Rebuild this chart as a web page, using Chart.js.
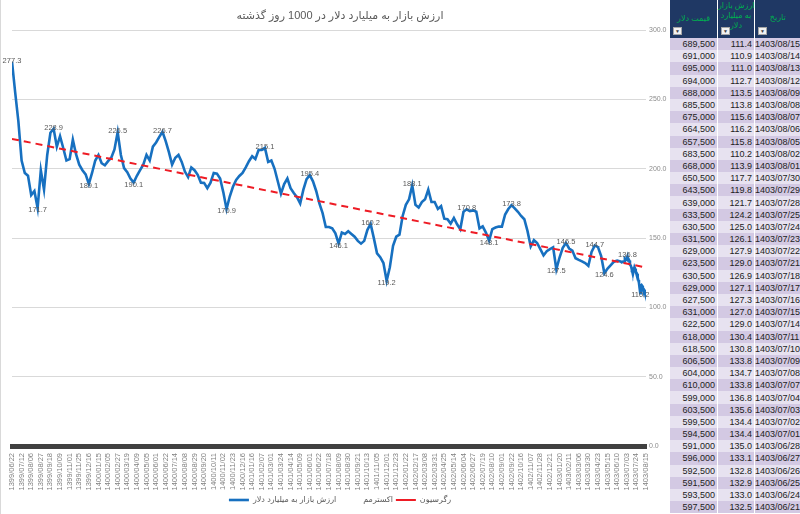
<!DOCTYPE html>
<html lang="fa">
<head>
<meta charset="utf-8">
<script src="https://cdn.jsdelivr.net/npm/chart.js@4.4.1/dist/chart.umd.min.js"></script>
<style>
  html, body { margin: 0; padding: 0; background: #fff; }
  body { width: 800px; height: 514px; position: relative; overflow: hidden; font-family: 'Liberation Sans', 'DejaVu Sans', Arial, sans-serif; }
  #chartBox { position: absolute; left: 0; top: 0; width: 668px; height: 514px; border-left: 1px solid #d9d9d9; box-sizing: border-box; }
  #tableBox { position: absolute; left: 669px; top: 0; width: 131px; height: 514px; overflow: hidden; }
  table { border-collapse: collapse; table-layout: fixed; width: 131px; font-size: 9px; color: #222; }
  th { background: #1f3864; color: #00b050; font-weight: normal; height: 38px; padding: 0; position: relative; font-size: 8px; border-left: 1px solid #fff; vertical-align: top; }
  th .txt { position: absolute; left: 0; right: 0; text-align: center; white-space: nowrap; }
  th .drop { position: absolute; left: 3px; bottom: 3px; width: 7px; height: 6px; background: #f2f2f2; border: 1px solid #a6a6a6; font-size: 5px; line-height: 6px; color: #404040; text-align: center; }
  td { height: 12.2px; padding: 0 2px 0 0; text-align: right; border-left: 1px solid #fff; white-space: nowrap; line-height: 12px; }
  tr.odd td { background: #d3c9e3; }
  tr.even td { background: #e7e2f0; }
</style>
</head>
<body>
<div id="chartBox"><canvas id="chart" dir="rtl"></canvas></div>
<div id="tableBox"></div>
<script>
// ارزش بازار به میلیارد دلار، هر ۵ روز معاملاتی یک نمونه، از 1399/06/22
const sampleStep = 5;
const marketSampled = [
  277.3, 255, 234, 206, 197, 195, 181, 184, 171.7, 199,
  185, 210, 226, 228.9, 216, 223.5, 215, 206, 207, 221,
  210.5, 203, 199, 196, 189.1, 197, 206, 210, 204, 202.5,
  205.5, 208, 214, 226.5, 210, 200.5, 197.5, 193, 190.1, 195,
  199, 203, 210, 206, 216, 219, 223, 226.7, 220, 212,
  203, 208, 210, 205, 198, 194, 201, 199, 195.7, 190,
  189.8, 186, 190, 197, 196.5, 193, 183, 170.9, 180, 187,
  192, 194.8, 197, 201, 205.5, 209, 207, 213.6, 213.6, 215.1,
  205, 206, 200, 191, 182, 189, 193, 186, 182.6, 179.5,
  175, 185, 192.5, 195.4, 191, 184, 175, 168, 158, 158,
  157, 153.5, 146.1, 154, 153, 155, 153, 151, 148, 146,
  148, 156, 160.2, 150, 139, 136.2, 132, 119.2, 129, 144.5,
  151, 152.5, 166, 174, 178, 188.1, 174, 172, 176, 178,
  185, 176, 176, 171, 173, 164, 163.6, 160.5, 164.5, 160,
  156.4, 169, 170.8, 169.5, 170, 169, 157, 158.5, 154, 148.1,
  156.5, 157.6, 158.3, 158.3, 167, 171, 173.8, 171.5, 169, 166,
  163.6, 155, 144, 148.5, 146.5, 142, 137.5, 140.5, 142, 143.3,
  127.5, 136, 143, 146.5, 142.5, 141, 135.5, 134.3, 133.2, 132,
  130, 140, 144.7, 143.5, 137, 124.6, 128, 130.5, 133, 133.8,
  133.1
];

// جدول روزهای آخر (جدیدترین در بالا)
const tableDates = [
  '1403/08/15', '1403/08/14', '1403/08/13', '1403/08/12', '1403/08/09', '1403/08/08', '1403/08/07', '1403/08/06',
  '1403/08/05', '1403/08/02', '1403/08/01', '1403/07/30', '1403/07/29', '1403/07/28', '1403/07/25', '1403/07/24',
  '1403/07/23', '1403/07/22', '1403/07/21', '1403/07/18', '1403/07/17', '1403/07/16', '1403/07/15', '1403/07/14',
  '1403/07/11', '1403/07/10', '1403/07/09', '1403/07/08', '1403/07/07', '1403/07/04', '1403/07/03', '1403/07/02',
  '1403/07/01', '1403/06/28', '1403/06/27', '1403/06/26', '1403/06/25', '1403/06/24', '1403/06/21'
];
const tableValues = [
  111.4, 110.9, 111.0, 112.7, 113.5, 113.8, 115.6, 116.2, 115.8, 110.2,
  113.9, 117.7, 119.8, 121.7, 124.2, 125.0, 126.1, 127.9, 129.0, 126.9,
  127.1, 127.3, 127.0, 129.0, 130.4, 130.8, 133.8, 134.7, 133.8, 136.8,
  135.6, 134.4, 134.4, 135.0, 133.1, 132.8, 132.9, 133.0, 132.5
];
const tablePrices = [
  689500, 691000, 695000, 694000, 688000, 685500, 675000, 664500, 657500, 683500,
  668000, 650500, 643500, 639000, 633500, 630500, 631500, 629000, 623500, 630500,
  629000, 627500, 631000, 622500, 618000, 618500, 606500, 604000, 610000, 599000,
  603500, 599500, 594500, 591000, 596000, 592500, 591500, 593500, 597500
];

// برچسب‌های محور افقی، هر ۱۵ روز معاملاتی
const tickStep = 15;
const tickDates = [
  '1399/06/22', '1399/07/12', '1399/08/06', '1399/08/27', '1399/09/18', '1399/10/09', '1399/11/01', '1399/11/25',
  '1399/12/16', '1400/01/15', '1400/02/05', '1400/02/27', '1400/03/19', '1400/04/09', '1400/05/05', '1400/06/01',
  '1400/06/22', '1400/07/14', '1400/08/08', '1400/08/29', '1400/09/20', '1400/10/11', '1400/11/02', '1400/11/23',
  '1400/12/16', '1401/01/16', '1401/02/07', '1401/03/01', '1401/03/24', '1401/04/14', '1401/05/09', '1401/06/01',
  '1401/06/22', '1401/07/18', '1401/08/09', '1401/08/30', '1401/09/21', '1401/10/13', '1401/11/05', '1401/12/01',
  '1401/12/23', '1402/01/22', '1402/02/17', '1402/03/08', '1402/03/31', '1402/04/25', '1402/05/14', '1402/06/04',
  '1402/06/27', '1402/07/19', '1402/08/10', '1402/09/01', '1402/09/22', '1402/10/16', '1402/11/07', '1402/11/28',
  '1402/12/21', '1403/01/20', '1403/02/11', '1403/03/06', '1403/03/30', '1403/04/23', '1403/05/15', '1403/06/10',
  '1403/07/03', '1403/07/24', '1403/08/15'
];
const yTicks = [0, 50, 100, 150, 200, 250, 300];

// اکسترمم‌ها (شماره روز معاملاتی)
const peakIdx = [0, 65, 165, 235, 395, 465, 560, 625, 710, 780, 865, 910, 961];
const troughIdx = [40, 120, 190, 335, 510, 585, 745, 850, 925, 981];

// خط رگرسیون: مقدار در روز اول و روز آخر
const trendValues = [221.6, 128.8];

// --- build series ---
const lastIndex = (tickDates.length - 1) * tickStep;
const series = marketSampled.map((v, k) => ({ x: k * sampleStep, y: v }));
const tail = tableValues.map((v, j) => ({ x: lastIndex - j, y: v })).reverse();
series.push(...tail);
const byIndex = new Map(series.map(p => [p.x, p.y]));

const extrema = [
  ...peakIdx.map(i => ({ x: i, y: byIndex.get(i), peak: true })),
  ...troughIdx.map(i => ({ x: i, y: byIndex.get(i), peak: false }))
];

const FONT = "'Liberation Sans', 'DejaVu Sans', Arial, sans-serif";

const extremaLabels = {
  id: 'extremaLabels',
  afterDatasetsDraw(chart) {
    const meta = chart.getDatasetMeta(1);
    const ctx = chart.ctx;
    ctx.save();
    ctx.font = '7.5px ' + FONT;
    ctx.fillStyle = '#595959';
    ctx.textAlign = 'center';
    ctx.textBaseline = 'middle';
    meta.data.forEach((pt, i) => {
      const e = extrema[i];
      ctx.fillText(e.y.toFixed(1), pt.x, pt.y + (e.peak ? -1 : 2));
    });
    ctx.restore();
  }
};

const canvas = document.getElementById('chart');
new Chart(canvas.getContext('2d'), {
  type: 'line',
  data: {
    datasets: [
      {
        label: 'ارزش بازار به میلیارد دلار',
        data: series,
        borderColor: '#1770c0',
        backgroundColor: '#1770c0',
        borderWidth: 2.6,
        pointRadius: 0,
        pointStyle: 'line',
        tension: 0,
        order: 2
      },
      {
        label: 'اکسترمم',
        data: extrema,
        showLine: false,
        pointRadius: 0,
        pointStyle: 'line',
        borderColor: 'rgba(0,0,0,0)',
        backgroundColor: 'rgba(0,0,0,0)',
        order: 1
      },
      {
        label: 'رگرسیون',
        data: [{ x: 0, y: trendValues[0] }, { x: lastIndex, y: trendValues[1] }],
        borderColor: '#ee1c25',
        backgroundColor: '#ee1c25',
        borderWidth: 2,
        borderDash: [7, 5],
        pointRadius: 0,
        pointStyle: 'line',
        order: 0
      }
    ]
  },
  options: {
    responsive: true,
    maintainAspectRatio: false,
    animation: false,
    layout: { padding: { left: 11, right: 0, top: 0, bottom: 0 } },
    scales: {
      x: {
        type: 'linear',
        min: 0,
        max: lastIndex,
        afterBuildTicks: s => { s.ticks = tickDates.map((d, j) => ({ value: j * tickStep })); },
        afterFit: s => { s.height = 47; },
        grid: { display: false },
        border: { display: true, color: '#404040', width: 5 },
        ticks: {
          autoSkip: false,
          minRotation: 90,
          maxRotation: 90,
          padding: -1,
          color: '#808080',
          font: { family: FONT, size: 7.5 },
          callback: (v, i) => tickDates[i]
        }
      },
      y: {
        position: 'right',
        min: 0,
        max: 300,
        afterBuildTicks: s => { s.ticks = yTicks.map(v => ({ value: v })); },
        afterFit: s => { s.width = 22; },
        grid: { color: '#d9d9d9', drawTicks: false },
        border: { display: false },
        ticks: {
          padding: 3,
          color: '#8c8c8c',
          font: { family: FONT, size: 7 },
          callback: v => Number(v).toFixed(1)
        }
      }
    },
    plugins: {
      title: {
        display: true,
        text: 'ارزش بازار به میلیارد دلار در 1000 روز گذشته',
        color: '#595959',
        font: { family: FONT, size: 11, weight: 'normal' },
        padding: { top: 9, bottom: 8 }
      },
      legend: {
        position: 'bottom',
        labels: {
          color: '#595959',
          font: { family: FONT, size: 8 },
          usePointStyle: true,
          pointStyleWidth: 20,
          boxHeight: 6,
          padding: 3,
          sort: (a, b) => a.datasetIndex - b.datasetIndex
        }
      },
      tooltip: { enabled: false }
    }
  },
  plugins: [extremaLabels]
});

// --- table ---
const fmt = n => n.toLocaleString('en-US');
let html = '<table><colgroup><col style="width:48px"><col style="width:37px"><col style="width:46px"></colgroup>';
html += '<tr><th><span class="txt" style="top:14px">قیمت دلار</span><span class="drop">▼</span></th>' +
        '<th><span class="txt" style="top:1px;line-height:10px">ارزش بازار<br>به میلیارد<br>دلار</span><span class="drop">▼</span></th>' +
        '<th><span class="txt" style="top:13px">تاریخ</span><span class="drop">▼</span></th></tr>';
tableDates.forEach((d, j) => {
  html += '<tr class="' + (j % 2 === 0 ? 'odd' : 'even') + '"><td>' + fmt(tablePrices[j]) +
          '</td><td>' + tableValues[j].toFixed(1) + '</td><td>' + d + '</td></tr>';
});
html += '</table>';
document.getElementById('tableBox').innerHTML = html;
</script>
</body>
</html>
